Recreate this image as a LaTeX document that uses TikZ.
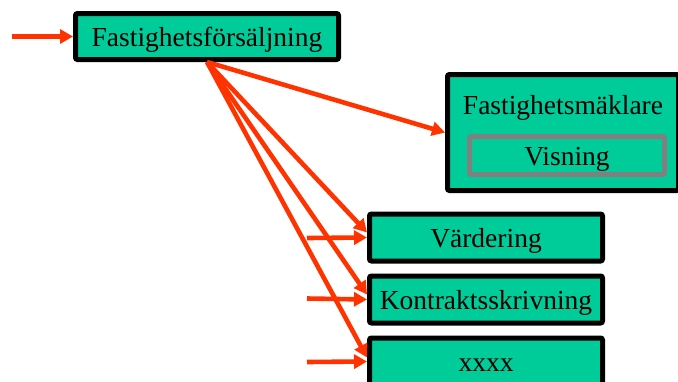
\documentclass[tikz,border=0pt]{standalone}
\usepackage{fontspec}
\setmainfont{Liberation Serif}
\usetikzlibrary{arrows.meta}
\definecolor{boxfill}{RGB}{0,204,153}
\definecolor{flow}{RGB}{255,51,0}
\definecolor{subframe}{RGB}{128,128,128}
\begin{document}
\begin{tikzpicture}[x=1pt,y=-1pt,
  txt/.style={inner sep=0pt,font=\fontsize{27.5}{31}\selectfont,
    text height=25.5pt,text depth=5.5pt},
  box/.style={txt,draw=black,line width=5pt,fill=boxfill,rounded corners=2pt},
  subbox/.style={box,draw=subframe},
  flowarrow/.style={draw=flow,line width=4.6pt,
    -{Triangle[length=13pt,width=14pt]}}]
\useasboundingbox (0,0) rectangle (678,381);
\begin{scope}
\clip (0,0) rectangle (678,381);
% main process box
\node[box,minimum width=263pt,minimum height=46pt] (top) at (207,36.5)
  {Fastighetsförsäljning};
% broker box with the viewing step inside
\node[box,minimum width=231pt,minimum height=116pt] (mak) at (563,132.5) {};
\node[txt] (makl) at (563,104) {Fastighetsmäklare};
\node[subbox,minimum width=195pt,minimum height=38pt] (vis) at (567,155.5)
  {Visning};
% sub steps
\node[box,minimum width=233pt,minimum height=47pt] (vard) at (486,237.5)
  {Värdering};
\node[box,minimum width=233pt,minimum height=47pt] (kontr) at (486,299.5)
  {Kontraktsskrivning};
\node[box,minimum width=233pt,minimum height=47pt] (xx) at (486,361.5)
  {xxxx};
% incoming arrows
\coordinate (in0) at (12,36.5);
\coordinate (in1) at (307,238);
\coordinate (in2) at (307,298.5);
\coordinate (in3) at (307,362);
\draw[flowarrow] (in0) -- (top.west);
\draw[flowarrow] (in1) -- (vard.west);
\draw[flowarrow] (in2) -- (kontr.west);
\draw[flowarrow] (in3) -- (xx.west);
% fan-out from the main process
\draw[flowarrow] (top.south) -- (mak.west);
\draw[flowarrow] (top.south) -- ([yshift=5pt]vard.west);
\draw[flowarrow] (top.south) -- ([yshift=5pt]kontr.west);
\draw[flowarrow] (top.south) -- ([yshift=4pt]xx.west);
\end{scope}
\end{tikzpicture}
\end{document}
